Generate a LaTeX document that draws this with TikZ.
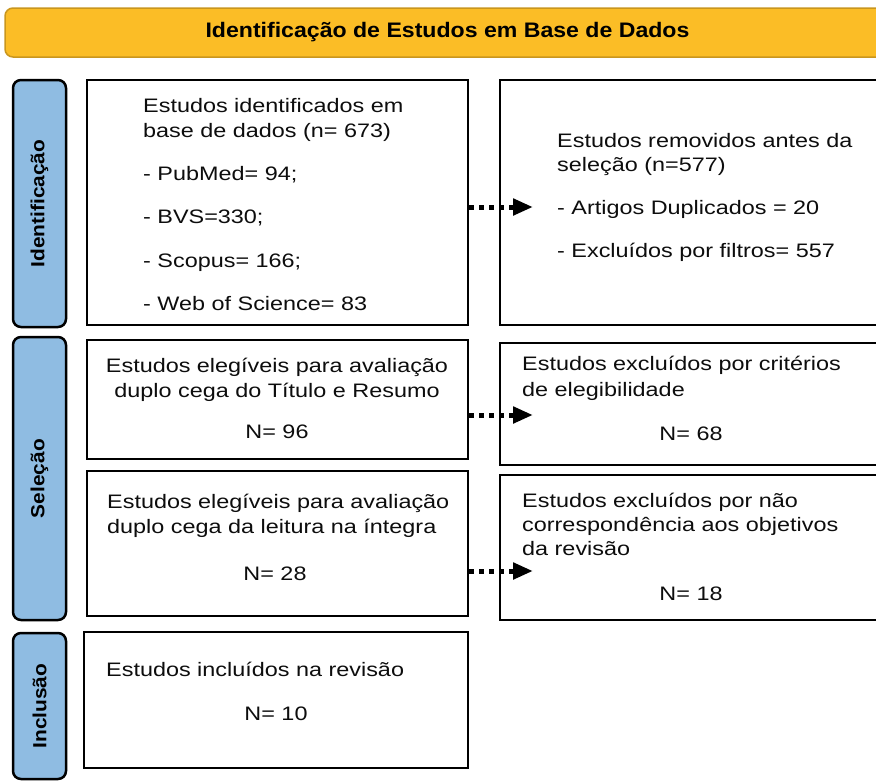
\documentclass[tikz,border=0pt]{standalone}
\usepackage{fontspec}
\setmainfont{Liberation Sans}
\newfontfamily\bodyf{Liberation Sans}[FakeStretch=1.2]
\newfontfamily\labf{Liberation Sans}[FakeStretch=1.1]
\usetikzlibrary{arrows.meta}
\definecolor{gold}{HTML}{FBBD26}
\definecolor{goldline}{HTML}{C9961E}
\definecolor{sideblue}{HTML}{8FBCE2}
\tikzset{
  box/.style={draw=black, line width=2.5pt, fill=white, inner sep=0pt},
  side/.style={draw=black, line width=2.5pt, fill=sideblue, rounded corners=8pt, inner sep=0pt,
    rotate=90, font=\labf\bfseries\fontsize{19}{22}\selectfont},
  txt/.style={font=\bodyf\fontsize{19.5}{24}\selectfont, inner sep=0pt, anchor=base west, text=black!95},
  ctxt/.style={txt, anchor=base},
  flow/.style={line width=5pt, dash pattern=on 5pt off 5pt, -{Triangle[length=20pt,width=16pt]}},
}
\begin{document}
\begin{tikzpicture}[x=1pt,y=-1pt]
\useasboundingbox (0,0) rectangle (876,782);
% header
\node[draw=goldline, fill=gold, line width=1.5pt, rounded corners=8pt, minimum width=885pt,
  minimum height=49pt, inner sep=0pt, font=\labf\bfseries\fontsize{21}{24}\selectfont]
  (hdr) at (447.5,32.5) {Identificação de Estudos em Base de Dados};
% side labels
\node[side, minimum width=247pt, minimum height=53pt] (sid) at (39.5,203.5) {Identificação};
\node[side, minimum width=283pt, minimum height=53pt] (sse) at (39.5,478.5) {Seleção};
\node[side, minimum width=146pt, minimum height=53pt] (sin) at (39.5,706) {Inclusão};
% boxes
\node[box, minimum width=381pt, minimum height=245pt] (idl) at (277.5,202.5) {};
\node[box, minimum width=390pt, minimum height=245pt] (idr) at (695,202.5) {};
\node[box, minimum width=381pt, minimum height=119pt] (el1) at (277.5,399.5) {};
\node[box, minimum width=390pt, minimum height=122pt] (ex1) at (695,404) {};
\node[box, minimum width=381pt, minimum height=145pt] (el2) at (277.5,543.5) {};
\node[box, minimum width=390pt, minimum height=145pt] (ex2) at (695,547.5) {};
\node[box, minimum width=384pt, minimum height=136pt] (inc) at (276,700) {};
% texts
\node[txt] (a1) at (143,112) {Estudos identificados em};
\node[txt] (a2) at (143,137) {base de dados (n= 673)};
\node[txt] (a3) at (143,180) {- PubMed= 94;};
\node[txt] (a4) at (143,223) {- BVS=330;};
\node[txt] (a5) at (143,267) {- Scopus= 166;};
\node[txt] (a6) at (143,310) {- Web of Science= 83};
\node[txt] (b1) at (557,147) {Estudos removidos antes da};
\node[txt] (b2) at (557,171) {seleção (n=577)};
\node[txt] (b3) at (557,214) {- Artigos Duplicados = 20};
\node[txt] (b4) at (557,257) {- Excluídos por filtros= 557};
\node[ctxt] (c1) at (277,372) {Estudos elegíveis para avaliação};
\node[ctxt] (c2) at (277,397) {duplo cega do Título e Resumo};
\node[ctxt] (c3) at (277,438) {N= 96};
\node[txt] (d1) at (522,370) {Estudos excluídos por critérios};
\node[txt] (d2) at (522,396) {de elegibilidade};
\node[ctxt] (d3) at (691,440) {N= 68};
\node[txt] (e1) at (107,508) {Estudos elegíveis para avaliação};
\node[txt] (e2) at (107,533) {duplo cega da leitura na íntegra};
\node[ctxt] (e3) at (275,580) {N= 28};
\node[txt] (f1) at (522,507) {Estudos excluídos por não};
\node[txt] (f2) at (522,531) {correspondência aos objetivos};
\node[txt] (f3) at (522,555) {da revisão};
\node[ctxt] (f4) at (691,600) {N= 18};
\node[txt] (g1) at (106,676) {Estudos incluídos na revisão};
\node[ctxt] (g2) at (276,720) {N= 10};
% arrows
\coordinate (p1) at (533,207);
\coordinate (p2) at (533,415);
\coordinate (p3) at (533,571);
\draw[flow] (idl.east |- p1) -- (p1);
\draw[flow] (el1.east |- p2) -- (p2);
\draw[flow] (el2.east |- p3) -- (p3);
\end{tikzpicture}
\end{document}
